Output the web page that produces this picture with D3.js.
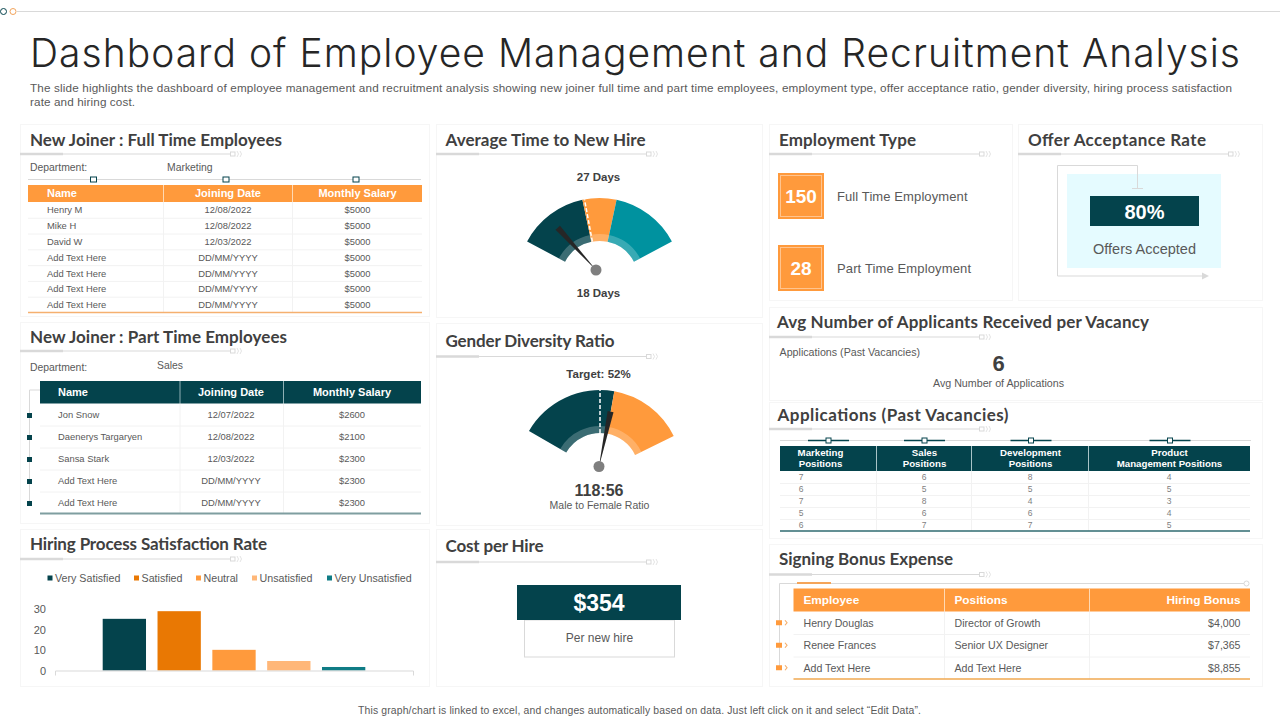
<!DOCTYPE html>
<html>
<head>
<meta charset="utf-8">
<title>Dashboard of Employee Management and Recruitment Analysis</title>
<script src="https://cdn.jsdelivr.net/npm/d3@7"></script>
<style>
  html, body { margin: 0; padding: 0; background: #fff; overflow: hidden; }
  svg { display: block; }
  text { font-family: "Liberation Sans", Arial, sans-serif; dominant-baseline: central; }
  .head { font-family: Lato, "Open Sans", sans-serif; font-weight: 700; fill: #404040; }
</style>
</head>
<body>
<script>
// table data
var tableCols = ['Name', 'Joining Date', 'Monthly Salary'];
var fullNames = ['Henry M', 'Mike H', 'David W', 'Add Text Here', 'Add Text Here', 'Add Text Here', 'Add Text Here'];
var fullDates = ['12/08/2022', '12/08/2022', '12/03/2022', 'DD/MM/YYYY', 'DD/MM/YYYY', 'DD/MM/YYYY', 'DD/MM/YYYY'];
var fullSalaries = ['$5000', '$5000', '$5000', '$5000', '$5000', '$5000', '$5000'];
var partNames = ['Jon Snow', 'Daenerys Targaryen', 'Sansa Stark', 'Add Text Here', 'Add Text Here'];
var partDates = ['12/07/2022', '12/08/2022', '12/03/2022', 'DD/MM/YYYY', 'DD/MM/YYYY'];
var partSalaries = ['$2600', '$2100', '$2300', '$2300', '$2300'];

var vacancyCols = [['Marketing', 'Positions'], ['Sales', 'Positions'], ['Development', 'Positions'], ['Product', 'Management Positions']];
var marketingPos = [7, 6, 7, 5, 6];
var salesPos = [6, 5, 8, 6, 7];
var developmentPos = [8, 5, 4, 6, 7];
var productPos = [4, 5, 3, 4, 5];

var bonusCols = ['Employee', 'Positions', 'Hiring Bonus'];
var bonusNames = ['Henry Douglas', 'Renee Frances', 'Add Text Here'];
var bonusRoles = ['Director of Growth', 'Senior UX Designer', 'Add Text Here'];
var bonusAmounts = ['$4,000', '$7,365', '$8,855'];

// satisfaction bars
var satisfactionLabels = ['Very Satisfied', 'Satisfied', 'Neutral', 'Unsatisfied', 'Very Unsatisfied'];
var satisfactionValues = [25, 28.7, 10, 4.6, 1.7];
var satisfactionTicks = [0, 10, 20, 30];

// gauges, on a 0-100 dial
var timeStops = [0, 40.3, 59.7, 100];
var timeNeedle = 16;
var timeMarker = 41.5;
var genderStops = [0, 56.5, 100];
var genderNeedle = 58;
var genderMarker = 48.4;

var employmentCounts = [150, 28];
var employmentLabels = ['Full Time Employment', 'Part Time Employment'];

var DARK = '#04434c', ORANGE = '#ff9a3c', BURNT = '#e97803', PEACH = '#ffb778', TEAL = '#0f7c85', CYAN = '#00929f';
var GREY = '#d9d9d9', TEXT = '#595959';

var svg = d3.select('body').append('svg').attr('width', 1280).attr('height', 720);

function label(parent, x, y, str, size, opts) {
  opts = opts || {};
  var t = parent.append('text')
    .attr('x', x).attr('y', y)
    .attr('font-size', size)
    .attr('fill', opts.fill || TEXT)
    .attr('text-anchor', opts.anchor || 'start')
    .text(str);
  if (opts.bold) t.attr('font-weight', 700);
  if (opts.width) t.attr('textLength', opts.width).attr('lengthAdjust', 'spacing');
  return t;
}

function hline(parent, x1, x2, y, color, w) {
  parent.append('line').attr('x1', x1).attr('x2', x2).attr('y1', y).attr('y2', y)
    .attr('stroke', color).attr('stroke-width', w || 1);
}

function vline(parent, x, y1, y2, color, w) {
  parent.append('line').attr('x1', x).attr('x2', x).attr('y1', y1).attr('y2', y2)
    .attr('stroke', color).attr('stroke-width', w || 1);
}

// panel box with its heading and the rule below it
function panel(x, y, w, h, title, titleX, titleY, titleW, ruleY) {
  var g = svg.append('g');
  g.append('rect').attr('x', x + 0.5).attr('y', y + 0.5).attr('width', w).attr('height', h)
    .attr('fill', '#fff').attr('stroke', '#f6f6f6');
  var t = label(g, titleX, titleY - 1, title, 17, {width: titleW, fill: '#404040'});
  t.attr('class', 'head');
  hline(g, x, x + 210, ruleY, GREY, 1);
  hline(g, x, x + 43, ruleY, GREY, 2.5);
  g.append('rect').attr('x', x + 210.5).attr('y', ruleY - 2).attr('width', 4.5).attr('height', 4)
    .attr('fill', '#fff').attr('stroke', GREY);
  [217, 220].forEach(function(dx) {
    g.append('path').attr('d', 'M' + (x + dx) + ',' + (ruleY - 3) + 'q3,3 0,6')
      .attr('fill', 'none').attr('stroke', '#e4e4e4');
  });
  return g;
}

// rows is a list of columns, each a list of cells
function table(parent, o) {
  var n = o.columns[0].length;
  var edges = o.edges;
  var rowY = d3.scaleBand().domain(d3.range(n)).range([o.bodyTop, o.bodyBottom]);
  var x0 = edges[0], x1 = edges[edges.length - 1];

  parent.append('rect').attr('x', x0).attr('y', o.headTop).attr('width', x1 - x0)
    .attr('height', o.bodyTop - o.headTop).attr('fill', o.headFill);

  parent.selectAll('line.sep').data(rowY.domain().slice(1)).join('line')
    .attr('class', 'sep')
    .attr('x1', x0).attr('x2', x1)
    .attr('y1', function(d) { return rowY(d) + 0.5; })
    .attr('y2', function(d) { return rowY(d) + 0.5; })
    .attr('stroke', '#f2f2f2');

  edges.slice(1, -1).forEach(function(ex) {
    vline(parent, ex, o.headTop, o.bodyTop, o.headRule, 1);
    vline(parent, ex, o.bodyTop, o.bodyBottom, '#f2f2f2', 1);
  });

  o.heads.forEach(function(h, i) {
    var lines = Array.isArray(h) ? h : [h];
    var hx = o.headX[i], mid = (o.headTop + o.bodyTop) / 2 - 0.5;
    lines.forEach(function(s, j) {
      label(parent, hx, mid + (j - (lines.length - 1) / 2) * o.headLeading, s, o.headSize,
        {fill: '#fff', bold: true, anchor: o.headAnchor[i]});
    });
  });

  o.columns.forEach(function(col, i) {
    parent.selectAll('text.c' + i).data(col).join('text')
      .attr('class', 'c' + i)
      .attr('x', o.cellX[i])
      .attr('y', function(d, r) { return rowY(r) + rowY.bandwidth() / 2; })
      .attr('font-size', o.cellSize)
      .attr('fill', o.cellFill || TEXT)
      .attr('text-anchor', o.cellAnchor[i])
      .text(function(d) { return d; });
  });

  hline(parent, x0, x1, o.bodyBottom, o.endColor, o.endWidth);
  return rowY;
}

// dial: arc segments, inner band, target dashes, needle and hub
function gauge(o) {
  var dial = d3.scaleLinear().domain([0, 100]).range(o.sweep.map(function(a) { return a * Math.PI / 180; }));
  var g = svg.append('g').attr('transform', 'translate(' + o.cx + ',' + o.cy + ')');
  var outer = d3.arc().innerRadius(o.r0).outerRadius(o.r1);
  var band = d3.arc().innerRadius(o.r0).outerRadius(o.r0 + 7);
  var segs = d3.pairs(o.stops).map(function(p, i) { return {a: p[0], b: p[1], c: o.colors[i]}; });

  g.selectAll('path.seg').data(segs).join('path').attr('class', 'seg')
    .attr('d', function(d) { return outer({startAngle: dial(d.a), endAngle: dial(d.b)}); })
    .attr('fill', function(d) { return d.c; });
  g.selectAll('path.band').data(segs).join('path').attr('class', 'band')
    .attr('d', function(d) { return band({startAngle: dial(d.a), endAngle: dial(d.b)}); })
    .attr('fill', '#fff').attr('opacity', 0.22);

  var m = dial(o.marker);
  g.append('line')
    .attr('x1', Math.sin(m) * o.r0).attr('y1', -Math.cos(m) * o.r0)
    .attr('x2', Math.sin(m) * o.r1).attr('y2', -Math.cos(m) * o.r1)
    .attr('stroke', '#fff').attr('stroke-width', 1.5).attr('stroke-dasharray', '4,2');

  var a = dial(o.needle), hx = o.hubX - o.cx, hy = o.hubY - o.cy;
  var tx = hx + Math.sin(a) * o.needleLen, ty = hy - Math.cos(a) * o.needleLen;
  var px = Math.cos(a) * 3, py = Math.sin(a) * 3;
  g.append('path')
    .attr('d', d3.line()([[hx, hy], [tx + px, ty + py], [tx - px, ty - py]]) + 'Z')
    .attr('fill', '#262626');
  g.append('circle').attr('cx', hx).attr('cy', hy).attr('r', 5.5).attr('fill', '#7f7f7f');
}

// top strip, title, intro
hline(svg, 17, 1280, 11.5, GREY, 1);
svg.append('circle').attr('cx', 3.5).attr('cy', 11.5).attr('r', 3).attr('fill', '#fff').attr('stroke', DARK);
svg.append('circle').attr('cx', 13).attr('cy', 11.5).attr('r', 3).attr('fill', '#fff').attr('stroke', '#f2a45c');

label(svg, 30, 52, 'Dashboard of Employee Management and Recruitment Analysis', 39, {fill: '#262626', width: 1210})
  .style('font-family', 'Inter, Lato, sans-serif').attr('font-weight', 300);
label(svg, 30, 87.5, 'The slide highlights the dashboard of employee management and recruitment analysis showing new joiner full time and part time employees, employment type, offer acceptance ratio, gender diversity, hiring process satisfaction', 11.7, {width: 1202});
label(svg, 30, 101.5, 'rate and hiring cost.', 11.7, {width: 105});

// New joiner: full time
var p1 = panel(20, 124, 409, 192, 'New Joiner : Full Time Employees', 30, 140, 252, 154);
label(p1, 30, 167, 'Department:', 10.4);
label(p1, 167, 167, 'Marketing', 10.4);
hline(p1, 28, 421, 179.5, GREY, 1);
[93.5, 226, 356].forEach(function(x) {
  p1.append('rect').attr('x', x - 3).attr('y', 177).attr('width', 6).attr('height', 5)
    .attr('fill', '#fff').attr('stroke', DARK);
});
table(p1, {
  edges: [28, 163.5, 292.5, 422], headTop: 185, bodyTop: 202, bodyBottom: 312.5,
  headFill: ORANGE, headRule: '#ffd9b3', heads: tableCols, headSize: 11, headLeading: 11,
  headX: [47, 228, 357.5], headAnchor: ['start', 'middle', 'middle'],
  columns: [fullNames, fullDates, fullSalaries], cellSize: 9.4,
  cellX: [47, 228, 357.5], cellAnchor: ['start', 'middle', 'middle'],
  endColor: '#f5b06f', endWidth: 1.5
});

// New joiner: part time
var p2 = panel(20, 322, 409, 201, 'New Joiner : Part Time Employees', 30, 337, 257, 351);
label(p2, 30, 367, 'Department:', 10.4);
label(p2, 157, 365, 'Sales', 10.4);
var partY = table(p2, {
  edges: [40, 180, 283.5, 421], headTop: 381, bodyTop: 403.5, bodyBottom: 513.5,
  headFill: DARK, headRule: '#8fb0b4', heads: tableCols, headSize: 11, headLeading: 11,
  headX: [58, 231, 352], headAnchor: ['start', 'middle', 'middle'],
  columns: [partNames, partDates, partSalaries], cellSize: 9.4,
  cellX: [58, 231, 352], cellAnchor: ['start', 'middle', 'middle'],
  endColor: '#7f9ea0', endWidth: 2
});
hline(p2, 29.5, 40, 390, GREY, 1);
vline(p2, 29.5, 390, 503, GREY, 1);
p2.selectAll('rect.mark').data(partNames).join('rect').attr('class', 'mark')
  .attr('x', 27).attr('width', 5).attr('height', 5)
  .attr('y', function(d, i) { return partY(i) + partY.bandwidth() / 2 - 1.5; })
  .attr('fill', DARK);

// Satisfaction bars
var p3 = panel(20, 529, 409, 157, 'Hiring Process  Satisfaction  Rate', 30, 544, 237, 559);
var barColors = [DARK, BURNT, ORANGE, PEACH, TEAL];
var legendX = [47.5, 134, 196, 252, 327];
var legendItem = p3.selectAll('g.legend').data(satisfactionLabels).join('g').attr('class', 'legend')
  .attr('transform', function(d, i) { return 'translate(' + legendX[i] + ',578)'; });
legendItem.append('rect').attr('y', -2.5).attr('width', 5).attr('height', 5)
  .attr('fill', function(d, i) { return barColors[i]; });
legendItem.append('text').attr('x', 7.5).attr('font-size', 10.7).attr('fill', TEXT)
  .text(function(d) { return d; });

var barX = d3.scaleBand().domain(satisfactionLabels).range([55, 413]).paddingInner(0.21).paddingOuter(0.87);
var barY = d3.scaleLinear().domain([0, 30]).range([670.5, 608.5]);
p3.selectAll('rect.bar').data(satisfactionValues).join('rect').attr('class', 'bar')
  .attr('x', function(d, i) { return barX(satisfactionLabels[i]); })
  .attr('width', barX.bandwidth())
  .attr('y', function(d) { return barY(d); })
  .attr('height', function(d) { return barY(0) - barY(d); })
  .attr('fill', function(d, i) { return barColors[i]; });
var yAxis = p3.append('g').attr('transform', 'translate(49,0)')
  .call(d3.axisLeft(barY).tickValues(satisfactionTicks).tickSize(0).tickPadding(3));
yAxis.select('.domain').remove();
yAxis.selectAll('text').attr('font-size', 11).attr('fill', TEXT).attr('dy', null)
  .style('font-family', '"Liberation Sans", Arial, sans-serif');
var xAxis = p3.append('g').attr('transform', 'translate(0,670.5)')
  .call(d3.axisBottom(barX).tickValues([]).tickSizeOuter(5));
xAxis.select('.domain').attr('stroke', GREY);

// Average time gauge
panel(436, 124, 326, 193, 'Average Time to New Hire', 445.5, 140, 200, 154);
label(svg, 598.5, 176.5, '27 Days', 11.5, {bold: true, anchor: 'middle', fill: '#404040'});
gauge({cx: 599.5, cy: 280, r0: 39, r1: 82, sweep: [-62, 62], stops: timeStops, colors: [DARK, ORANGE, CYAN],
  marker: timeMarker, needle: timeNeedle, hubX: 596, hubY: 270, needleLen: 57});
label(svg, 598.5, 292.5, '18 Days', 11.5, {bold: true, anchor: 'middle', fill: '#404040'});

// Gender gauge
panel(436, 323, 326, 202, 'Gender Diversity  Ratio', 445.5, 341.5, 169, 356.5);
label(svg, 598.5, 373.5, 'Target: 52%', 11.5, {bold: true, anchor: 'middle', fill: '#404040'});
gauge({cx: 600, cy: 472, r0: 39, r1: 82, sweep: [-60, 64], stops: genderStops, colors: [DARK, ORANGE],
  marker: genderMarker, needle: genderNeedle, hubX: 599, hubY: 466.5, needleLen: 56});
label(svg, 599, 490.5, '118:56', 16, {bold: true, anchor: 'middle', fill: '#404040'});
label(svg, 599.5, 504.5, 'Male to Female Ratio', 10.5, {anchor: 'middle'});

// Cost per hire
var p6 = panel(436, 529, 326, 157, 'Cost  per Hire', 445.5, 546.5, 98, 562);
p6.append('rect').attr('x', 524.5).attr('y', 620).attr('width', 150).attr('height', 37)
  .attr('fill', '#fff').attr('stroke', GREY);
p6.append('rect').attr('x', 517).attr('y', 585).attr('width', 164).attr('height', 35).attr('fill', DARK);
label(p6, 599, 603, '$354', 23, {bold: true, anchor: 'middle', fill: '#fff'});
label(p6, 599.5, 637.5, 'Per new hire', 12, {anchor: 'middle'});

// Employment type
var p7 = panel(769, 124, 243, 176, 'Employment Type', 779, 140, 137, 154);
var countY = d3.scalePoint().domain(employmentLabels).range([196, 268]);
employmentLabels.forEach(function(name, i) {
  var y = countY(name);
  p7.append('rect').attr('x', 778).attr('y', y - 23).attr('width', 46).attr('height', 46).attr('fill', ORANGE);
  p7.append('rect').attr('x', 780.5).attr('y', y - 20.5).attr('width', 41).attr('height', 41)
    .attr('fill', 'none').attr('stroke', '#ffc48f');
  label(p7, 801, y, employmentCounts[i], 19, {bold: true, anchor: 'middle', fill: '#fff'});
  label(p7, 837, y, name, 13, {width: i ? 134 : 130.5});
});

// Offer acceptance
var p8 = panel(1018, 124, 244, 176, 'Offer  Acceptance  Rate', 1028, 140, 178, 154);
p8.append('rect').attr('x', 1067).attr('y', 174).attr('width', 154).attr('height', 94).attr('fill', '#e5fbff');
p8.append('path').attr('d', d3.line()([[1137.5, 188], [1137.5, 165.5], [1057.5, 165.5], [1057.5, 276], [1202, 276]]))
  .attr('fill', 'none').attr('stroke', GREY);
hline(p8, 1132, 1143, 188.5, GREY, 1);
p8.append('path').attr('d', 'M1202,272.5L1209,276L1202,279.5Z').attr('fill', GREY);
p8.append('rect').attr('x', 1090).attr('y', 196).attr('width', 109).attr('height', 30).attr('fill', DARK);
label(p8, 1144.5, 211.5, '80%', 20, {bold: true, anchor: 'middle', fill: '#fff'});
label(p8, 1144.5, 248.5, 'Offers Accepted', 14.5, {anchor: 'middle'});

// Avg applicants
var p9 = panel(769, 307, 493, 93, 'Avg Number of Applicants Received per Vacancy', 777, 322, 372, 337);
label(p9, 779.5, 352, 'Applications (Past Vacancies)', 10.7);
label(p9, 998.5, 363.5, '6', 22, {bold: true, anchor: 'middle', fill: '#404040'});
label(p9, 998.5, 383, 'Avg Number of Applications', 10.7, {anchor: 'middle'});

// Past vacancies table
var p10 = panel(769, 402, 493, 136, 'Applications (Past Vacancies)', 777.5, 415, 231, 429);
hline(p10, 780, 1251, 440.5, GREY, 1);
[828.5, 924.5, 1031, 1170].forEach(function(x) {
  hline(p10, x - 20.5, x + 20.5, 440.5, DARK, 1.5);
  p10.append('rect').attr('x', x - 2.5).attr('y', 438).attr('width', 5).attr('height', 5)
    .attr('fill', '#fff').attr('stroke', DARK);
});
table(p10, {
  edges: [780, 876.5, 971.5, 1088.5, 1250], headTop: 446, bodyTop: 471, bodyBottom: 531,
  headFill: DARK, headRule: '#a9c4c7', heads: vacancyCols, headSize: 9.7, headLeading: 11,
  headX: [820.5, 924.5, 1030.5, 1169.5], headAnchor: ['middle', 'middle', 'middle', 'middle'],
  columns: [marketingPos, salesPos, developmentPos, productPos], cellSize: 8.5, cellFill: '#7f7f7f',
  cellX: [801, 924, 1030, 1169], cellAnchor: ['middle', 'middle', 'middle', 'middle'],
  endColor: '#2f6b70', endWidth: 1.5
});

// Signing bonus
var p11 = panel(769, 544, 493, 142, 'Signing Bonus Expense', 779, 559.5, 174, 574.5);
p11.append('path').attr('d', d3.line()([[779.5, 668], [779.5, 583.5], [1244, 583.5]]))
  .attr('fill', 'none').attr('stroke', GREY);
p11.append('circle').attr('cx', 1246.5).attr('cy', 583.5).attr('r', 2.5).attr('fill', '#fff').attr('stroke', GREY);
hline(p11, 797, 831, 583, '#f5a55a', 2);
var bonusY = table(p11, {
  edges: [793.5, 944.5, 1089.5, 1250], headTop: 588.5, bodyTop: 611.5, bodyBottom: 679,
  headFill: ORANGE, headRule: '#ffd9b3', heads: bonusCols, headSize: 11.8, headLeading: 12,
  headX: [803.5, 954.5, 1240.5], headAnchor: ['start', 'start', 'end'],
  columns: [bonusNames, bonusRoles, bonusAmounts], cellSize: 10.6,
  cellX: [803.5, 954.5, 1240.5], cellAnchor: ['start', 'start', 'end'],
  endColor: '#f0a850', endWidth: 1.5
});
var tick = p11.selectAll('g.tick-mark').data(bonusNames).join('g').attr('class', 'tick-mark')
  .attr('transform', function(d, i) { return 'translate(776,' + (bonusY(i) + bonusY.bandwidth() / 2) + ')'; });
tick.append('rect').attr('y', -2.5).attr('width', 6).attr('height', 5).attr('fill', ORANGE);
tick.append('path').attr('d', 'M9,-2.5L11,0L9,2.5').attr('fill', 'none').attr('stroke', '#f5b06f').attr('stroke-width', 1.2);

// footer
label(svg, 639.5, 710, 'This graph/chart is linked to excel, and changes automatically based on data. Just left click on it and select \u201cEdit Data\u201d.', 10.4, {anchor: 'middle', width: 563});
</script>
</body>
</html>
